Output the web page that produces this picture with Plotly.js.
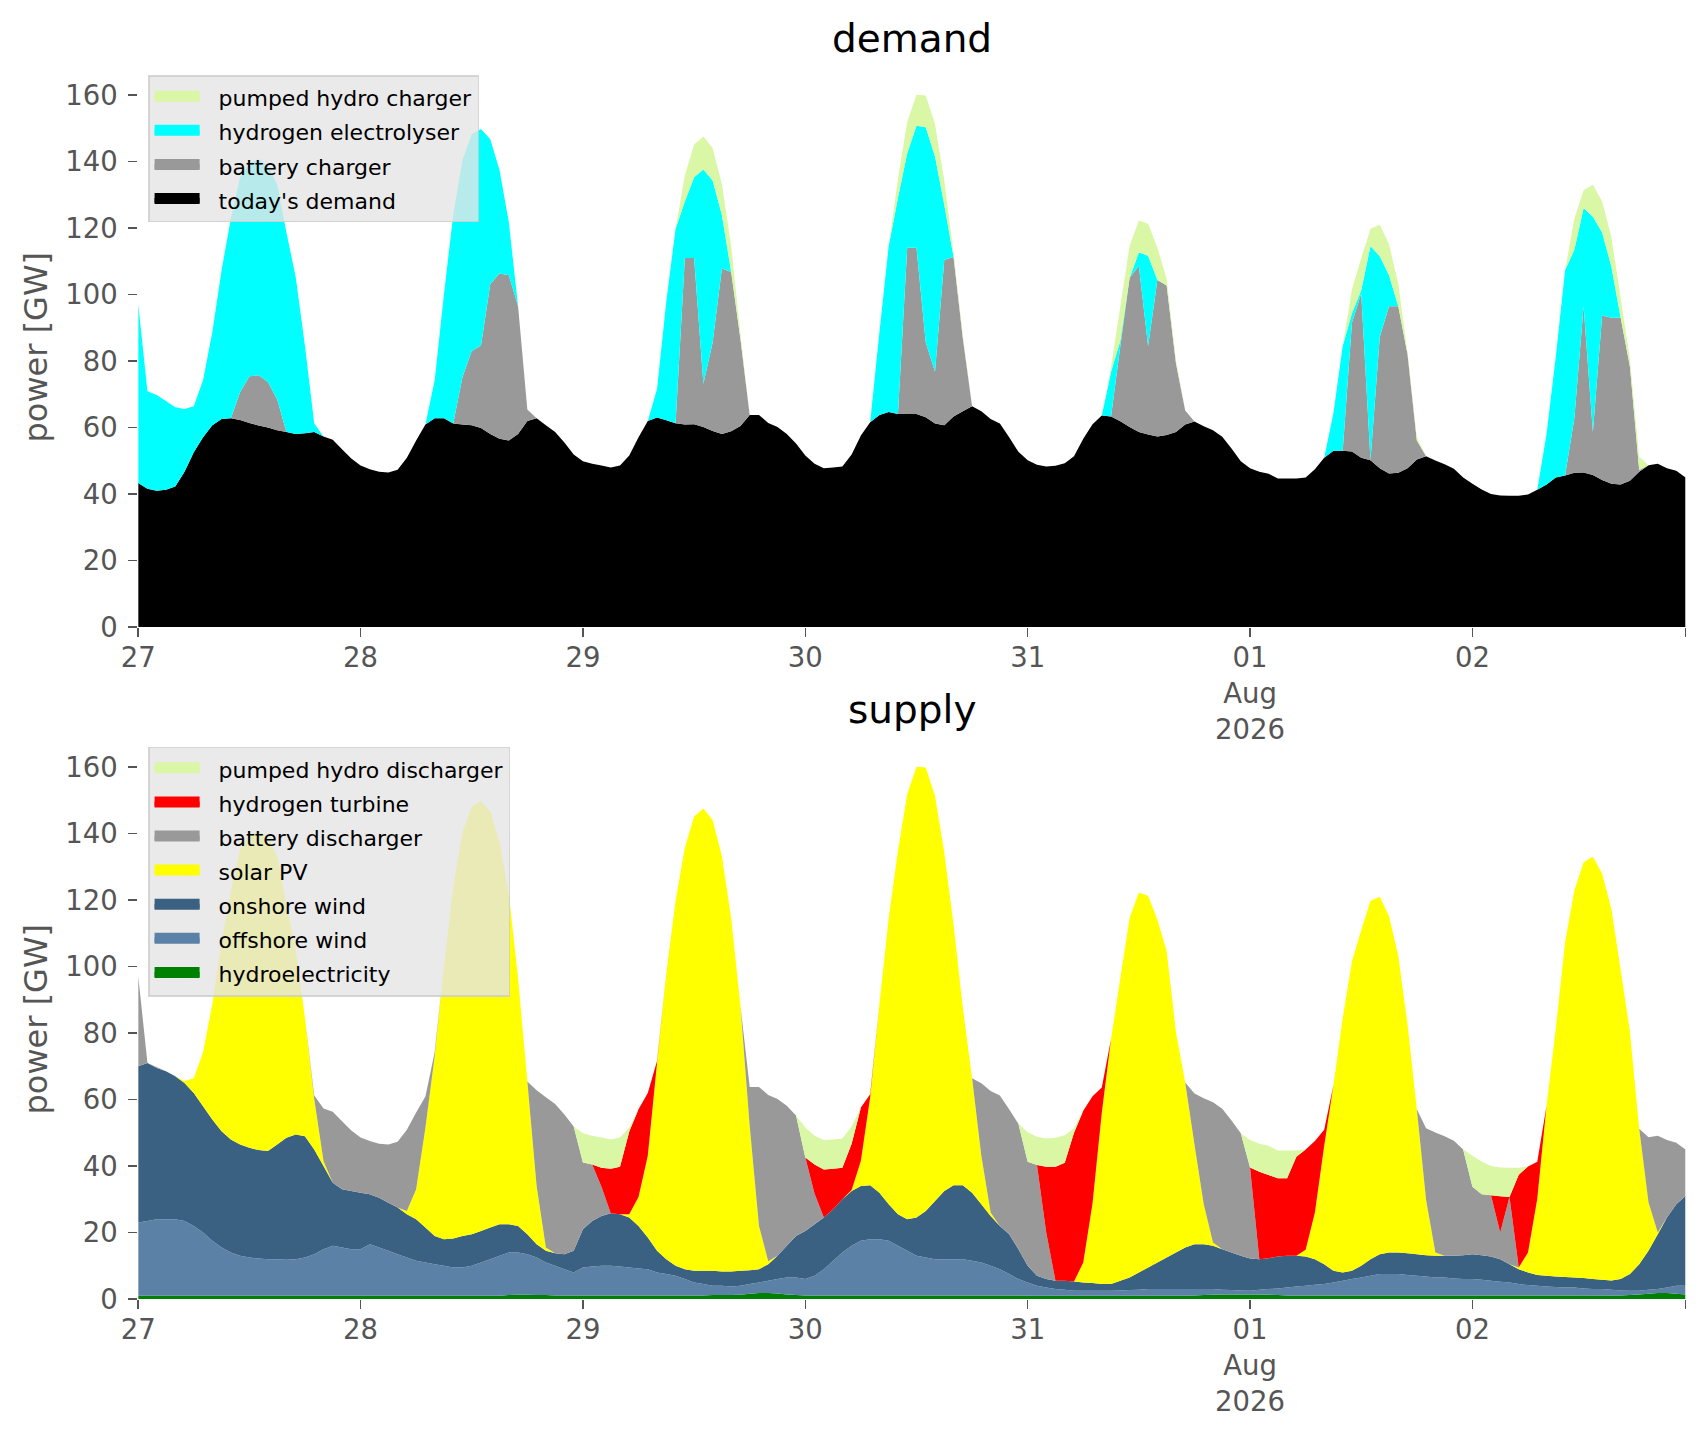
<!DOCTYPE html>
<html>
<head>
<meta charset="utf-8">
<script src="https://cdn.plot.ly/plotly-3.0.1.min.js"></script>
<style>
  html, body { margin: 0; padding: 0; background: #ffffff; }
  #myDiv { width: 1706px; height: 1431px; }
</style>
</head>
<body>
<div id="myDiv"></div>
<script>
// hourly time axis, 27 Jul - 2 Aug 2026
var days = ['2026-07-27', '2026-07-28', '2026-07-29', '2026-07-30', '2026-07-31', '2026-08-01', '2026-08-02'];
var hours = ['00','01','02','03','04','05','06','07','08','09','10','11',
             '12','13','14','15','16','17','18','19','20','21','22','23'];
var time = [];
days.forEach(function(d) {
  hours.forEach(function(h) { time.push(d + ' ' + h + ':00'); });
});

var tickDays = ['2026-07-27', '2026-07-28', '2026-07-29', '2026-07-30', '2026-07-31', '2026-08-01', '2026-08-02', '2026-08-02 23:00'];
var tickLabels = ['27', '28', '29', '30', '31', '01<br>Aug<br>2026', '02', ''];

// ---- demand [GW], one row per day ----
var todaysDemand = [
  43.3,41.6,41.0,41.3,42.3,46.7,52.6,57.1,60.7,62.6,62.8,62.3,61.4,60.6,60.0,59.2,58.7,58.1,58.3,58.7,57.3,56.3,53.5,50.7,
  48.6,47.5,46.7,46.5,47.3,50.9,56.1,60.9,62.8,62.8,61.2,60.9,60.7,59.9,58.1,56.6,56.1,58.1,62.0,62.8,60.7,58.7,55.5,51.9,
  49.9,49.1,48.6,48.0,48.6,51.6,57.1,62.0,63.0,62.2,61.3,60.9,61.0,60.2,59.0,58.1,58.9,60.5,63.8,63.8,61.4,60.2,58.1,55.2,
  51.6,49.1,47.8,48.0,48.3,51.9,57.6,61.6,63.8,64.7,64.1,64.1,64.1,63.1,61.2,60.7,63.3,64.9,66.4,64.9,62.6,61.2,57.1,52.7,
  50.2,48.8,48.3,48.5,49.3,51.4,56.6,61.0,63.6,63.3,61.9,60.2,58.7,57.9,57.3,57.8,58.7,60.9,61.8,60.4,59.2,57.2,53.7,49.9,
  47.8,46.7,46.1,44.7,44.7,44.7,45.0,47.5,50.9,53.0,53.0,52.8,50.9,50.2,47.8,46.2,46.4,47.8,50.4,51.4,50.1,49.0,47.6,45.0,
  43.1,41.4,40.0,39.6,39.5,39.5,39.9,41.3,42.9,45.0,45.6,46.4,46.5,45.7,44.2,43.1,42.9,44.0,46.7,48.7,49.1,47.8,47.0,45.0
];
var batteryCharger = [
  0,0,0,0,0,0,0,0,0,0,0,8.3,14.0,15.1,13.7,9.3,0,0,0,0,0,0,0,0,
  0,0,0,0,0,0,0,0,0,0,0,14.3,22.3,24.8,45.1,49.7,49.7,38.4,3.4,0,0,0,0,0,
  0,0,0,0,0,0,0,0,0,0,0,50.1,50.0,13.0,26.6,49.7,47.9,26.1,0,0,0,0,0,0,
  0,0,0,0,0,0,0,0,0,0,0,50.0,50.0,22.5,15.6,49.7,48.0,22.0,0,0,0,0,0,0,
  0,0,0,0,0,0,0,0,0,0,22.6,44.8,49.9,26.6,47.1,44.9,20.7,4.2,0,0,0,0,0,0,
  0,0,0,0,0,0,0,0,0,0,0,38.7,49.4,0,39.4,50.3,50.1,34.2,5.7,0,0,0,0,0,
  0,0,0,0,0,0,0,0,0,0,0,16.4,50.0,13.0,49.5,49.9,50.1,34.3,0.5,0,0,0,0,0
];
var electrolyser = [
  53.9,29.3,28.8,26.7,23.8,18.9,13.8,17.1,28.0,44.7,60.1,64.7,64.0,65.0,65.0,64.7,60.0,47.2,26.2,2.5,0,0,0,0,
  0,0,0,0,0,0,0,0,11.4,37.3,62.7,65.3,65.2,65.1,43.5,31.1,16.0,0,0,0,0,0,0,0,
  0,0,0,0,0,0,0,0,8.6,35.8,58.5,17.0,24.3,64.4,48.7,16.1,0,0,0,0,0,0,0,0,
  0,0,0,0,0,0,0,0,24.9,49.9,65.0,28.4,36.7,64.7,64.7,16.6,0,0,0,0,0,0,0,0,
  0,0,0,0,0,0,0,0,0,13.5,1.6,0,4.1,27.2,0,0,0,0,0,0,0,0,0,0,
  0,0,0,0,0,0,0,0,0,11.3,31.5,2.9,1.0,64.4,24.3,9.3,0,0,0,0,0,0,0,0,
  0,0,0,0,0,0,0,0,15.2,36.4,61.7,50.7,29.5,64.7,25.0,15.4,0,0,0,0,0,0,0,0
];
var pumpedCharger = [
  0,0,0,0,0,0,0,0,0,0,0,0,0,0,0,0,0,0,0,0,0,0,0,0,
  0,0,0,0,0,0,0,0,0,0,0,0,0,0,0,0,0,0,0,0,0,0,0,0,
  0,0,0,0,0,0,0,0,0,0,0,7.8,9.8,9.9,9.8,9.3,7.8,1.5,0,0,0,0,0,0,
  0,0,0,0,0,0,0,0,0,0,5.7,9.4,9.3,9.6,9.8,7.3,1.3,0.8,0,0,0,0,0,0,
  0,0,0,0,0,0,0,0,0,1.5,10.4,9.6,9.6,9.6,9.7,2.0,1.0,0,0,0,0,0,0,0,
  0,0,0,0,0,0,0,0,0,0,0,7.2,9.6,5.2,9.5,9.3,6.7,0.5,1.0,0,0,0,0,0,
  0,0,0,0,0,0,0,0,0,0,0,9.4,5.4,9.6,9.3,8.8,6.0,2.1,4.0,0,0,0,0,0
];

// ---- supply [GW], one row per day ----
var hydro = [
  1.0,1.0,1.0,1.0,1.0,1.0,1.0,1.0,1.0,1.0,1.0,1.0,1.0,1.0,1.0,1.0,1.0,1.0,1.0,1.0,1.0,1.0,1.0,1.0,
  1.0,1.0,1.0,1.0,1.0,1.0,1.0,1.0,1.0,1.0,1.0,1.0,1.0,1.0,1.0,1.0,1.2,1.3,1.3,1.2,1.2,1.1,1.1,1.1,
  1.1,1.1,1.1,1.1,1.1,1.1,1.1,1.1,1.1,1.1,1.1,1.1,1.1,1.1,1.2,1.2,1.2,1.3,1.6,1.8,1.8,1.7,1.4,1.2,
  1.1,1.1,1.1,1.1,1.1,1.1,1.1,1.1,1.1,1.1,1.1,1.1,1.1,1.1,1.1,1.1,1.1,1.1,1.1,1.1,1.1,1.1,1.1,1.1,
  1.0,1.0,1.0,1.0,1.0,1.0,1.0,1.0,1.0,1.0,1.0,1.0,1.0,1.0,1.0,1.0,1.0,1.0,1.1,1.2,1.3,1.4,1.4,1.4,
  1.4,1.4,1.3,1.2,1.1,1.1,1.1,1.1,1.1,1.1,1.1,1.1,1.1,1.1,1.1,1.1,1.1,1.1,1.1,1.1,1.1,1.1,1.1,1.1,
  1.1,1.1,1.1,1.1,1.1,1.1,1.1,1.1,1.1,1.1,1.1,1.1,1.1,1.1,1.1,1.1,1.1,1.2,1.4,1.6,1.8,1.8,1.6,1.4
];
var offshoreWind = [
  22,22.5,23,23,23,22.5,21,19,16.5,14.5,13,12,11.5,11.2,11,11,10.8,11,11.5,12.5,14,15,14.5,14,
  14,15.5,14.5,13.5,12.5,11.5,10.5,10,9.5,9,8.5,8.5,9,10,11,12,12.8,12.7,12.2,11.3,9.8,8.9,7.9,6.9,
  8.4,8.7,8.9,8.9,8.7,8.4,8.1,7.9,6.9,6.4,5.9,4.9,3.9,3.4,2.8,2.8,2.6,2.7,2.9,3.2,3.7,4.3,5.1,5.3,
  4.9,5.9,7.9,10.4,12.9,14.9,16.4,16.9,16.9,16.4,14.9,13.4,11.9,11.4,10.9,10.9,10.9,10.9,10.4,9.9,8.9,7.9,6.4,4.9,
  4,3,2.5,2,1.8,1.5,1.5,1.5,1.5,1.5,1.6,1.7,1.8,2,2,2,2,2,1.9,1.8,1.7,1.4,1.3,1.2,
  1.1,1.4,1.7,2.0,2.4,2.7,2.9,3.2,3.4,3.9,4.4,4.9,5.4,5.9,6.4,6.4,6.4,6.1,5.9,5.7,5.4,5.4,5.1,4.9,
  4.9,4.7,4.4,4.1,3.9,3.4,3.1,2.9,2.7,2.5,2.4,2.4,2.1,1.9,1.9,1.7,1.5,1.3,1.1,1.2,1.2,1.7,2.4,2.6
];
var onshoreWind = [
  47,47.5,45.5,44.5,43,41.5,40,38,36.5,35,34,33.5,33,32.6,32.5,34.5,36.7,37.5,36.5,31.5,25,19,17.5,17.5,
  17,15,15,14.5,14,13,12.5,10.5,8.5,8,8.7,9.5,9.5,9.5,9.5,9.5,8.5,8,6,4,3.5,3.8,4.5,6.5,
  11.5,13.7,15,15.8,15.7,15,12.8,9.5,6.5,4.5,3,3,3.5,4,4.5,4.3,4.5,4.5,4.2,4,5,7,9.5,12.5,
  14.5,15.5,15.5,15.5,16,16.5,16.5,16.2,14,11,9.5,9.5,11.5,14,17.5,20.5,22.2,22.2,20.5,17.5,15,13,12,9,
  5,3,2.5,2.5,2.7,2.8,2.5,2.3,2,2,2.9,3.8,5.2,6.5,8,9.5,11,12.5,13.5,13.5,13,12.2,11.3,10.4,
  9.7,9.2,9.3,9.6,9.5,9.2,8.8,7.7,6,3.5,2.5,2.5,3.5,5,6,6.5,6.5,6.6,6.5,6.4,6.5,6.5,6.8,7.2,
  7.5,7.4,7.3,6.8,5.5,4.5,3.8,3.2,3.2,3.2,3.1,3,3.1,3,2.8,2.8,3.4,5,8,11.7,16.5,21,24.5,27
];
var solarPV = [
  0,0,0,0,0,0.6,4.4,16.2,34.7,56.8,74.9,88.8,93.9,95.9,94.2,86.7,70.2,55.8,35.5,15.2,1.5,0,0,0,
  0,0,0,0,0,1,9,30,54,82.1,105.7,121.5,128.7,129.3,125.2,114.9,99.3,74.5,45.9,17.5,1,0,0,0,
  0,0,0,0,0,1,8.7,24.6,56.6,86.0,109.8,126.8,136.6,139.0,135.6,124.9,106.3,79.6,43.3,13,0.9,0,0,0,
  0,0,0,0,0,0.3,7.6,26.5,56.7,86.1,109.3,127.9,135.6,133.4,121.8,101.8,78.4,53.5,34.4,14.5,1,0,0,0,
  0,0,0,0,0,0,6,24,51.5,73.8,91.0,108.1,114.3,111.8,103.1,92.2,66.4,49.6,30,12,1,0,0,0,
  0,0,0,0,0,0,2,14,35.5,55.8,76.5,93.1,100.9,107.8,107.5,101.1,89.2,68.7,43.6,16.6,1,0,0,0,
  0,0,0,0,0,0.5,6,23,51.1,74.6,100.7,116.4,125.1,127.0,122.2,111.6,93.0,72.9,40.7,14.6,0.5,0,0,0
];
var batteryDischarger = [
  27.2,0,0.3,0,0,0,0,0,0,0,0,0,0,0,0,0,0,0,0,1.0,15.8,21.3,20.5,18.2,
  16.6,16.0,16.2,17.5,19.8,24.4,23.1,9.4,1.2,0,0,0,0,0,0,0,0,0,0,28.8,45.2,44.9,42.0,37.4,
  20.1,17.0,8.8,0,0,0,0,0,0,0,0,0,0,0,0,0,0,0,11.8,41.8,50,47.2,42.1,36.2,
  22.1,9.2,0,0,0,0,0,0,0,0,0,0,0,0,0,0,0,0,0,21.9,36.6,39.2,37.6,37.7,
  31.3,33.3,14,0,0,0,0,0,0,0,0,0,0,0,0,0,0,0,15.3,31.9,42.2,42.2,39.7,36.9,
  27.4,0,0,0,0,0,0,0,0,0,0,0,0,0,0,0,0,0,0,21.6,36.1,36.0,34.6,31.8,
  20.3,18.3,18.4,8,20.2,0,0,0,0,0,0,0,0,0,0,0,0,0,0,19.6,29.1,23.3,18.5,14.0
];
var hydrogenTurbine = [
  0,0,0,0,0,0,0,0,0,0,0,0,0,0,0,0,0,0,0,0,0,0,0,0,
  0,0,0,0,0,0,0,0,0,0,0,0,0,0,0,0,0,0,0,0,0,0,0,0,
  0,0,5.7,13.4,14.3,24.9,26.4,18.9,0.5,0,0,0,0,0,0,0,0,0,0,0,0,0,0,0,
  0,8.8,14.5,12.2,9.5,13.9,16.0,0.9,0,0,0,0,0,0,0,0,0,0,0,0,0,0,0,0,
  0,0,19.8,34.3,35.5,44.7,45.6,32.2,7.6,0,0,0,0,0,0,0,0,0,0,0,0,0,0,0,
  0,26.3,25.0,23.5,23.3,29.8,30.2,21.5,4.9,0,0,0,0,0,0,0,0,0,0,0,0,0,0,0,
  0,0,0,10.9,0,27.9,25.9,11.1,0,0,0,0,0,0,0,0,0,0,0,0,0,0,0,0
];
var pumpedDischarger = [
  0,0,0,0,0,0,0,0,0,0,0,0,0,0,0,0,0,0,0,0,0,0,0,0,
  0,0,0,0,0,0,0,0,0,0,0,0,0,0,0,0,0,0,0,0,0,0,0,0,
  8.8,8.6,9.1,8.8,8.8,1.2,0,0,0,0,0,0,0,0,0,0,0,0,0,0,0,0,0,0,
  9.0,8.6,8.8,8.8,8.8,5.2,0,0,0,0,0,0,0,0,0,0,0,0,0,0,0,0,0,0,
  8.9,8.5,8.5,8.7,8.3,1.4,0,0,0,0,0,0,0,0,0,0,0,0,0,0,0,0,0,0,
  8.2,8.4,8.8,8.4,8.4,1.9,0,0,0,0,0,0,0,0,0,0,0,0,0,0,0,0,0,0,
  9.3,9.9,8.8,8.7,8.8,2.1,0,0,0,0,0,0,0,0,0,0,0,0,0,0,0,0,0,0
];

// stacks, bottom to top
var demandStack = [
  ["today's demand", todaysDemand, '#000000'],
  ['battery charger', batteryCharger, '#999999'],
  ['hydrogen electrolyser', electrolyser, '#00ffff'],
  ['pumped hydro charger', pumpedCharger, '#daf7a6']
];
var supplyStack = [
  ['hydroelectricity', hydro, '#008000'],
  ['offshore wind', offshoreWind, '#5b82a6'],
  ['onshore wind', onshoreWind, '#3b6182'],
  ['solar PV', solarPV, '#ffff00'],
  ['battery discharger', batteryDischarger, '#999999'],
  ['hydrogen turbine', hydrogenTurbine, '#ff0000'],
  ['pumped hydro discharger', pumpedDischarger, '#daf7a6']
];

var data = [];
function addStack(stack, xa, ya, group, legendId) {
  stack.forEach(function(s) {
    data.push({
      x: time, y: s[1], xaxis: xa, yaxis: ya,
      type: 'scatter', mode: 'none', stackgroup: group,
      fillcolor: s[2], showlegend: false, hoverinfo: 'skip'
    });
  });
  // legend keys, top entry first
  stack.slice().reverse().forEach(function(s) {
    data.push({
      x: [null], y: [null], xaxis: xa, yaxis: ya,
      type: 'scatter', mode: 'lines', fill: 'toself', fillcolor: s[2],
      name: '\u00a0\u00a0' + s[0], legendgroup: group + s[0],
      line: {color: s[2], width: 10}, legend: legendId, hoverinfo: 'skip'
    });
  });
}
addStack(demandStack, 'x', 'y', 'demand', 'legend');
addStack(supplyStack, 'x2', 'y2', 'supply', 'legend2');

var grey = '#555555';
var tickFont = {family: 'DejaVu Sans', size: 27.5, color: grey};
var xCommon = {
  type: 'date', range: [time[0], time[time.length - 1]],
  tickmode: 'array', tickvals: tickDays, ticktext: tickLabels, tickangle: 0,
  ticks: 'outside', ticklen: 9, tickwidth: 1.6, tickcolor: grey, tickfont: tickFont,
  ticklabelstandoff: -3,
  showgrid: false, zeroline: false, showline: false, domain: [0.0810, 0.9880]
};
var yCommon = {
  range: [0, 168.1], tick0: 0, dtick: 20,
  ticks: 'outside', ticklen: 9, tickwidth: 1.6, tickcolor: grey, tickfont: tickFont,
  ticklabelstandoff: 5,
  showgrid: false, zeroline: false, showline: false
};
var legendCommon = {
  x: 0.0868, xanchor: 'left', yanchor: 'top', traceorder: 'grouped', tracegroupgap: 2.5,
  bgcolor: 'rgba(229,229,229,0.8)', bordercolor: 'rgba(204,204,204,0.8)', borderwidth: 1.5,
  font: {family: 'DejaVu Sans', size: 22, color: '#000000'}, itemwidth: 45
};

var layout = {
  width: 1706, height: 1431,
  margin: {l: 0, r: 0, t: 0, b: 0},
  paper_bgcolor: '#ffffff', plot_bgcolor: '#ffffff',
  font: {family: 'DejaVu Sans'},
  xaxis: Object.assign({}, xCommon, {anchor: 'y'}),
  yaxis: Object.assign({}, yCommon, {anchor: 'x', domain: [0.5618, 0.9524]}),
  xaxis2: Object.assign({}, xCommon, {anchor: 'y2'}),
  yaxis2: Object.assign({}, yCommon, {anchor: 'x2', domain: [0.0922, 0.4828]}),
  legend: Object.assign({}, legendCommon, {y: 0.9473}),
  legend2: Object.assign({}, legendCommon, {y: 0.4780}),
  annotations: [
    {text: 'demand', x: 0.5346, y: 0.9734, xref: 'paper', yref: 'paper',
     xanchor: 'center', yanchor: 'middle', showarrow: false,
     font: {family: 'DejaVu Sans', size: 39, color: '#000000'}},
    {text: 'supply', x: 0.5346, y: 0.5042, xref: 'paper', yref: 'paper',
     xanchor: 'center', yanchor: 'middle', showarrow: false,
     font: {family: 'DejaVu Sans', size: 39, color: '#000000'}},
    {text: 'power [GW]', x: 0.0211, y: 0.7572, xref: 'paper', yref: 'paper',
     xanchor: 'center', yanchor: 'middle', textangle: -90, showarrow: false,
     font: {family: 'DejaVu Sans', size: 32, color: grey}},
    {text: 'power [GW]', x: 0.0211, y: 0.2876, xref: 'paper', yref: 'paper',
     xanchor: 'center', yanchor: 'middle', textangle: -90, showarrow: false,
     font: {family: 'DejaVu Sans', size: 32, color: grey}}
  ]
};

Plotly.newPlot('myDiv', data, layout, {displayModeBar: false, staticPlot: true});
</script>
</body>
</html>
